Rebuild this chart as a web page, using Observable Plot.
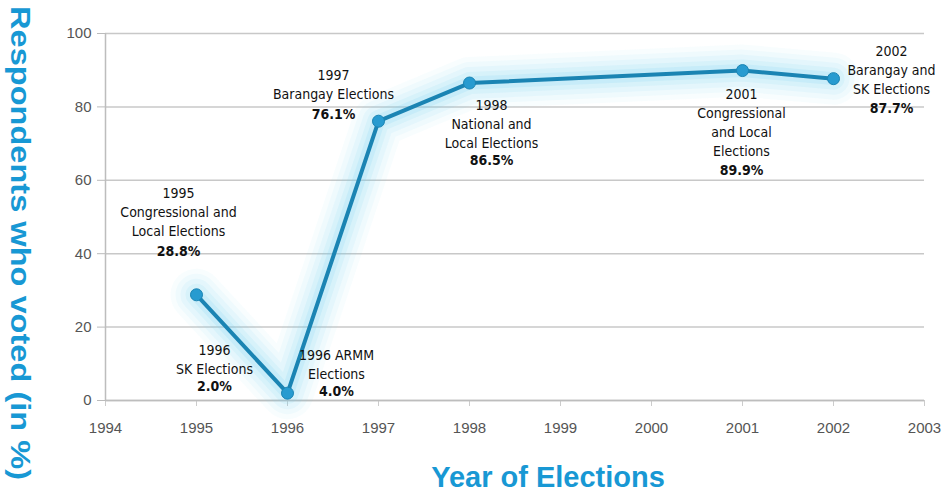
<!DOCTYPE html>
<html>
<head>
<meta charset="utf-8">
<script src="https://cdn.jsdelivr.net/npm/d3@7"></script>
<script src="https://cdn.jsdelivr.net/npm/@observablehq/plot@0.6"></script>
<style>
  html, body { margin: 0; padding: 0; background: #fff; }
  #chart { width: 948px; height: 492px; overflow: hidden; }
</style>
</head>
<body>
<div id="chart"></div>
<script>
// ---- data ----
const years = [1995, 1996, 1997, 1998, 2001, 2002];
const turnout = [28.8, 2.0, 76.1, 86.5, 89.9, 87.7];

const labelYears = [1995, 1996, 1996, 1997, 1998, 2001, 2002];
const labelValues = [28.8, 2.0, 4.0, 76.1, 86.5, 89.9, 87.7];
const labelTexts = [
  "1995\nCongressional and\nLocal Elections",
  "1996\nSK Elections",
  "1996 ARMM\nElections",
  "1997\nBarangay Elections",
  "1998\nNational and\nLocal Elections",
  "2001\nCongressional\nand Local\nElections",
  "2002\nBarangay and\nSK Elections"
];
const labelPercents = ["28.8%", "2.0%", "4.0%", "76.1%", "86.5%", "89.9%", "87.7%"];

const xTicks = [1994, 1995, 1996, 1997, 1998, 1999, 2000, 2001, 2002, 2003];
const yTicks = [0, 20, 40, 60, 80, 100];

const xTitle = "Year of Elections";
const yTitle = "Respondents who voted (in %)";

// ---- layout (offsets in px for annotations) ----
const descOffsets = [[-18, -110], [-73, -52], [49, -39], [-45, -55], [22, 13], [-1, 15], [58, -36]];
const pctOffsets  = [[-18, -49],  [-73, -12], [49, 0],   [-45, -12], [22, 72], [-1, 94], [58, 24]];

const series = years.map((y, i) => ({year: y, value: turnout[i]}));
const labels = labelYears.map((y, i) => ({year: y, value: labelValues[i], text: labelTexts[i], pct: labelPercents[i]}));

const labelFont = '"Liberation Sans Narrow", "Arial Narrow", "DejaVu Sans Condensed", sans-serif';

const annotationMarks = labels.flatMap((l, i) => [
  Plot.text([l], {x: "year", y: "value", text: "text", dx: descOffsets[i][0], dy: descOffsets[i][1],
    lineAnchor: "top", lineHeight: 1.36, fontSize: 14, fill: "#111", fontFamily: labelFont}),
  Plot.text([l], {x: "year", y: "value", text: "pct", dx: pctOffsets[i][0], dy: pctOffsets[i][1],
    lineAnchor: "top", fontSize: 14, fontWeight: "bold", fill: "#111", fontFamily: labelFont})
]);

// soft glow built from stacked translucent strokes
const glowMarks = [[52, 0.05], [42, 0.07], [32, 0.09], [22, 0.12], [13, 0.18]].map(([w, o]) =>
  Plot.line(series, {x: "year", y: "value", stroke: "#7fd4f2", strokeWidth: w, strokeOpacity: o,
    strokeLinejoin: "round", strokeLinecap: "round"})
);

const chart = Plot.plot({
  width: 948,
  height: 492,
  marginLeft: 105,
  marginRight: 24,
  marginTop: 33,
  marginBottom: 92,
  style: {fontFamily: '"Liberation Sans", Arial, sans-serif', fontSize: "15px", color: "#555", background: "#fff"},
  x: {domain: [1994, 2003]},
  y: {domain: [0, 100]},
  marks: [
    Plot.gridY(yTicks, {stroke: "#c8c8c8", strokeOpacity: 1, strokeWidth: 1.5}),
    Plot.axisY(yTicks, {tickSize: 8, tickPadding: 6, stroke: "#bbb", fill: "#555", label: null, fontSize: 15}),
    Plot.axisX(xTicks, {tickSize: 6, tickPadding: 16, stroke: "#ccc", fill: "#555", label: null, tickFormat: "d", fontSize: 15}),
    Plot.ruleX([1994], {stroke: "#bdbdbd", strokeWidth: 1.5}),
    Plot.ruleY([0], {stroke: "#bdbdbd", strokeWidth: 1.5}),
    ...glowMarks,
    Plot.line(series, {x: "year", y: "value", stroke: "#1a84b3", strokeWidth: 4}),
    Plot.dot(series, {x: "year", y: "value", r: 6, fill: "#279bd0", stroke: "#1a84b3", strokeWidth: 1}),
    ...annotationMarks
  ]
});

const svg = d3.select(chart);

// axis titles
svg.append("text")
  .attr("transform", "translate(11,243) rotate(90)")
  .attr("text-anchor", "middle")
  .attr("font-family", '"Liberation Sans", Arial, sans-serif')
  .attr("font-weight", "bold")
  .attr("font-size", 27)
  .attr("fill", "#1898d4")
  .attr("textLength", 474)
  .attr("lengthAdjust", "spacingAndGlyphs")
  .text(yTitle);

svg.append("text")
  .attr("x", 548)
  .attr("y", 487)
  .attr("text-anchor", "middle")
  .attr("font-family", '"Liberation Sans", Arial, sans-serif')
  .attr("font-weight", "bold")
  .attr("font-size", 29)
  .attr("fill", "#1898d4")
  .text(xTitle);

document.getElementById("chart").appendChild(chart);
</script>
</body>
</html>
